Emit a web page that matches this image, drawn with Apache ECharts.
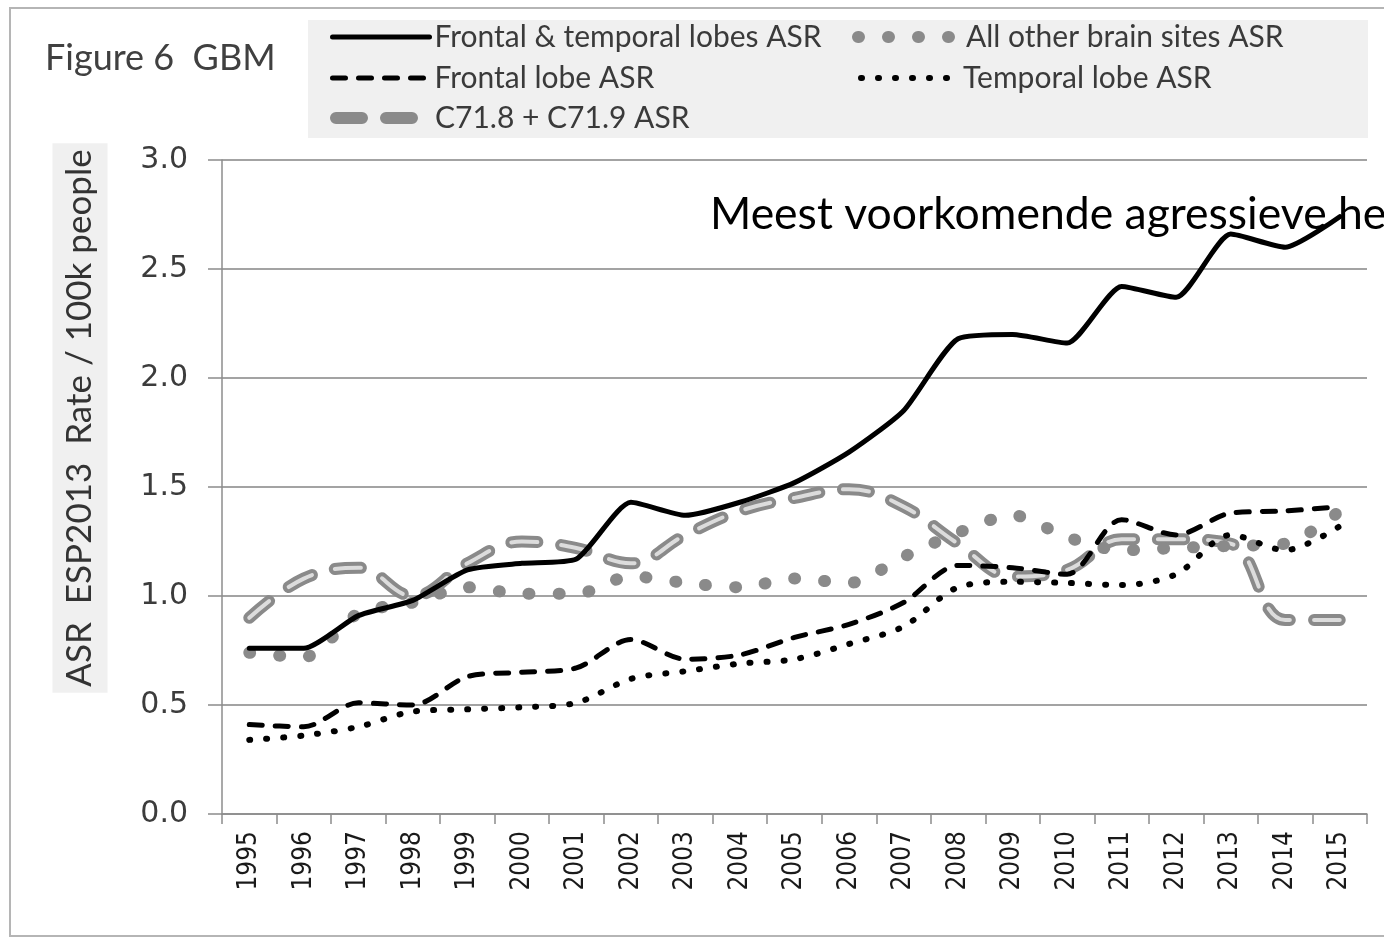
<!DOCTYPE html>
<html><head><meta charset="utf-8">
<script src="https://cdn.jsdelivr.net/npm/echarts@6/dist/echarts.min.js"></script>
<style>html,body{margin:0;padding:0;background:#fff}#c{width:1384px;height:940px}</style>
</head><body><div id="c"></div>
<script>
const years = ['1995','1996','1997','1998','1999','2000','2001','2002','2003','2004','2005','2006','2007','2008','2009','2010','2011','2012','2013','2014','2015'];
const frontalTemporal = [0.76,0.76,0.91,0.98,1.12,1.15,1.17,1.43,1.37,1.43,1.52,1.66,1.85,2.18,2.20,2.16,2.42,2.37,2.66,2.60,2.74];
const allOther = [0.74,0.72,0.92,0.97,1.04,1.01,1.01,1.09,1.06,1.04,1.08,1.06,1.18,1.29,1.37,1.27,1.21,1.22,1.23,1.24,1.39];
const frontal = [0.41,0.40,0.51,0.50,0.63,0.65,0.67,0.80,0.71,0.73,0.81,0.87,0.97,1.14,1.13,1.10,1.35,1.28,1.38,1.39,1.41];
const temporal = [0.34,0.36,0.40,0.47,0.48,0.49,0.51,0.62,0.655,0.69,0.71,0.78,0.86,1.04,1.065,1.06,1.05,1.10,1.28,1.21,1.32];
const c71 = [0.90,1.08,1.13,1.00,1.15,1.25,1.22,1.15,1.28,1.39,1.45,1.49,1.41,1.24,1.09,1.12,1.26,1.26,1.24,0.89,0.89];

const names = {
  ft: 'Frontal & temporal lobes ASR',
  ao: 'All other brain sites ASR',
  fr: 'Frontal lobe ASR',
  te: 'Temporal lobe ASR',
  c7: 'C71.8 + C71.9 ASR'
};
const titleText = 'Figure 6  GBM';
const noteText = 'Meest voorkomende agressieve hersentumor';
const yName = 'ASR  ESP2013  Rate / 100k people';

const chart = echarts.init(document.getElementById('c'), null, {renderer: 'canvas'});

function ser(name, data, color, width, dash, cap, smooth, z) {
  return {
    name, type: 'line', data, symbol: 'none', smooth, z,
    itemStyle: {color},
    lineStyle: {color, width, type: dash, cap, join: 'round'},
    emphasis: {disabled: true}
  };
}
function leg(name, left, center, w, iw, padLeft) {
  return {
    data: [name], left, top: center - 15, itemWidth: iw, itemHeight: 14, padding: 0,
    selectedMode: false,
    textStyle: {fontFamily: 'Lato', fontSize: 30, color: '#3a3a3a', padding: [0, 0, 0, padLeft || 0]},
    lineStyle: {width: w},
    itemStyle: {opacity: 0, color: 'rgba(0,0,0,0)', borderWidth: 0}
  };
}

chart.setOption({
  backgroundColor: '#fff',
  animation: false,
  grid: {left: 222, right: 17, top: 160, bottom: 126, containLabel: false},
  legend: [
    leg(names.ft, 330, 37, 5, 97),
    leg(names.ao, 852, 37, 12, 96, 7),
    leg(names.fr, 330, 78, 5, 97),
    leg(names.te, 858, 78, 6, 97),
    leg(names.c7, 330, 118, 12, 94)
  ],
  xAxis: {
    type: 'category', data: years, boundaryGap: true,
    axisLine: {lineStyle: {color: '#8c8c8c', width: 1.5}},
    axisTick: {show: true, length: 10, alignWithLabel: false, lineStyle: {color: '#8c8c8c', width: 1.5}},
    axisLabel: {rotate: 90, margin: 17, fontFamily: "'DejaVu Sans Condensed', 'Liberation Sans Narrow', 'Roboto Condensed', Roboto, sans-serif", fontSize: 26, color: '#1a1a1a'}
  },
  yAxis: {
    type: 'value', min: 0, max: 3, interval: 0.5,
    axisLine: {show: true, lineStyle: {color: '#8c8c8c', width: 1.5}},
    axisTick: {show: true, length: 14, lineStyle: {color: '#8c8c8c', width: 1.5}},
    axisLabel: {margin: 34, fontFamily: 'DejaVu Sans', fontSize: 30, color: '#3c3c3c', formatter: v => v.toFixed(1)},
    splitLine: {lineStyle: {color: '#a3a3a3', width: 1.8}}
  },
  graphic: [
    {type: 'rect', z: -10, shape: {x: 10, y: 8, width: 1390, height: 928}, style: {fill: 'none', stroke: '#b5b5b5', lineWidth: 2}},
    {type: 'rect', z: -9, shape: {x: 308, y: 20, width: 1060, height: 118}, style: {fill: '#f0f0f0'}},
    {type: 'text', x: 45, y: 58, style: {text: titleText, font: '36px Lato', fill: '#404040', align: 'left', verticalAlign: 'middle'}},
    {type: 'text', x: 710, y: 215, z: 100, style: {text: noteText, font: '44.5px Lato', fill: '#000', align: 'left', verticalAlign: 'middle'}},
    {type: 'text', x: 80, y: 418, rotation: Math.PI / 2, style: {text: yName, font: '35px Lato', fill: '#333', align: 'center', verticalAlign: 'middle', backgroundColor: '#f0f0f0', padding: [10, 6]}}
  ],
  series: [
    ser(names.c7, c71, '#8a8a8a', 12, [26, 24], 'round', 0.4, 2),
    ser('c71-inner', c71, '#dcdcdc', 4, [26, 24], 'round', 0.4, 3),
    ser(names.ao, allOther, '#8a8a8a', 12, [1, 29], 'round', 0.3, 4),
    ser(names.te, temporal, '#000', 6, [1, 16], 'round', 0.3, 5),
    ser(names.fr, frontal, '#000', 5, [13, 13], 'round', 0.3, 6),
    ser(names.ft, frontalTemporal, '#000', 5, 'solid', 'round', 0.2, 7)
  ]
});
</script></body></html>
